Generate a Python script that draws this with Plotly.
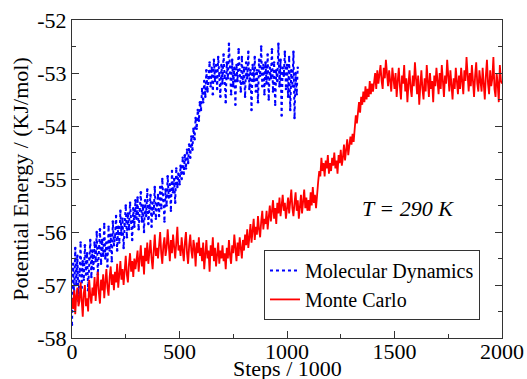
import plotly.graph_objects as go

# Monte Carlo: steps/1000 every 5, 0..2000
mc_steps = list(range(0, 2001, 5))
mc_energy = [
    -57.25,-57.45,-57.10,-57.55,-57.20,-57.05,-57.40,-57.30,-56.95,-57.35,-57.60,-57.15,-57.00,-57.40,-57.25,-57.50,-56.90,-57.20,-57.35,-57.05,
    -57.20,-56.85,-57.30,-57.00,-56.75,-57.15,-57.35,-56.90,-57.10,-56.80,-57.25,-56.95,-56.70,-57.05,-57.20,-56.85,-56.65,-57.00,-56.80,-57.10,
    -56.75,-56.95,-56.60,-57.05,-56.80,-56.55,-56.90,-56.70,-57.00,-56.65,-56.45,-56.80,-56.95,-56.60,-56.40,-56.75,-56.55,-56.85,-56.50,-56.70,
    -56.55,-56.35,-56.75,-56.50,-56.25,-56.65,-56.45,-56.80,-56.30,-56.55,-56.20,-56.60,-56.40,-56.15,-56.50,-56.70,-56.35,-56.05,-56.45,-56.30,
    -56.50,-56.20,-56.00,-56.40,-56.60,-56.25,-56.10,-56.45,-56.30,-55.95,-56.35,-56.55,-56.15,-56.40,-56.05,-56.30,-56.50,-56.20,-55.90,-56.35,
    -56.25,-56.45,-56.10,-56.35,-56.55,-56.20,-56.00,-56.40,-56.60,-56.25,-56.05,-56.35,-56.50,-56.15,-56.30,-56.65,-56.20,-56.40,-56.10,-56.45,
    -56.30,-56.55,-56.20,-56.70,-56.40,-56.15,-56.50,-56.35,-56.75,-56.25,-56.45,-56.10,-56.55,-56.30,-56.65,-56.40,-56.20,-56.60,-56.35,-56.50,
    -56.25,-56.55,-56.40,-56.70,-56.30,-56.50,-56.15,-56.45,-56.60,-56.25,-56.40,-56.05,-56.35,-56.55,-56.20,-56.45,-56.10,-56.30,-56.50,-56.15,
    -56.35,-56.05,-56.25,-55.95,-56.30,-56.10,-55.85,-56.20,-56.00,-55.75,-56.15,-55.90,-56.05,-55.70,-55.95,-56.10,-55.80,-55.60,-55.95,-55.75,
    -55.85,-55.60,-55.95,-55.70,-55.50,-55.80,-55.65,-55.40,-55.75,-55.55,-55.85,-55.45,-55.65,-55.35,-55.70,-55.50,-55.30,-55.60,-55.45,-55.75,
    -55.55,-55.35,-55.65,-55.40,-55.20,-55.55,-55.70,-55.45,-55.25,-55.60,-55.40,-55.75,-55.50,-55.30,-55.65,-55.45,-55.20,-55.55,-55.35,-55.60,
    -55.40,-55.60,-55.25,-55.50,-55.15,-55.45,-55.30,-55.55,-55.20,-55.05,-54.85,-54.95,-54.60,-54.85,-54.70,-54.95,-54.65,-54.80,-54.55,-54.90,
    -54.70,-54.85,-54.60,-54.75,-54.50,-54.80,-54.65,-54.90,-54.55,-54.70,-54.45,-54.75,-54.60,-54.35,-54.65,-54.50,-54.25,-54.55,-54.40,-54.20,
    -54.35,-54.15,-54.30,-54.00,-53.80,-53.95,-53.70,-53.55,-53.75,-53.45,-53.60,-53.35,-53.55,-53.25,-53.50,-53.30,-53.45,-53.15,-53.40,-53.20,
    -53.35,-53.10,-53.00,-53.30,-52.95,-53.20,-53.05,-52.85,-53.15,-53.30,-52.90,-53.10,-52.75,-53.05,-53.25,-52.95,-53.15,-53.35,-52.90,-53.10,
    -53.30,-53.00,-53.45,-53.15,-52.90,-53.25,-53.50,-53.05,-53.20,-52.85,-53.35,-53.10,-53.55,-53.20,-52.95,-53.30,-53.45,-53.05,-53.25,-52.80,
    -53.15,-53.40,-53.05,-53.60,-53.25,-52.95,-53.30,-53.50,-53.10,-53.35,-52.85,-53.20,-53.45,-53.00,-53.30,-53.15,-53.55,-53.05,-53.25,-52.90,
    -53.20,-53.40,-53.00,-53.30,-52.85,-53.25,-53.45,-53.05,-53.20,-52.75,-53.15,-53.35,-52.95,-53.25,-53.50,-53.10,-53.30,-52.90,-53.15,-53.40,
    -53.05,-53.30,-52.90,-53.20,-53.40,-52.95,-53.15,-52.70,-53.10,-53.35,-53.00,-53.25,-52.85,-53.15,-53.45,-53.05,-52.80,-53.20,-53.35,-52.95,
    -53.15,-53.35,-52.90,-53.25,-53.50,-53.05,-52.75,-53.20,-53.40,-52.95,-53.25,-53.10,-52.70,-53.30,-53.45,-53.00,-53.20,-53.55,-52.85,-53.15,
    -53.20,
]

# Molecular Dynamics: steps/1000 every 5, 0..1050
md_steps = list(range(0, 1051, 5))
md_energy = [
    -57.75,-56.60,-57.20,-56.30,-57.00,-56.45,-57.30,-56.75,-56.20,-57.05,-56.55,-56.90,-56.25,-56.80,-56.40,-57.10,-56.50,-56.15,-56.85,-56.35,
    -56.70,-56.20,-56.55,-56.00,-56.80,-56.30,-55.95,-56.60,-56.15,-56.45,-55.85,-56.50,-56.20,-56.65,-55.90,-56.35,-56.05,-56.55,-55.80,-56.25,
    -56.10,-55.70,-56.35,-55.90,-56.20,-55.60,-56.05,-55.75,-56.30,-55.85,-55.50,-56.10,-55.65,-55.95,-55.45,-55.80,-56.15,-55.55,-55.90,-55.40,
    -55.75,-55.35,-55.95,-55.60,-55.25,-55.80,-55.50,-56.00,-55.40,-55.70,-55.20,-55.85,-55.55,-55.30,-55.90,-55.45,-55.65,-55.15,-55.75,-55.50,
    -55.30,-55.70,-55.15,-55.55,-55.00,-55.40,-55.80,-55.20,-55.50,-54.95,-55.35,-55.10,-55.60,-54.85,-55.25,-55.00,-55.45,-54.80,-55.15,-54.90,
    -55.10,-54.75,-55.00,-54.60,-54.90,-54.55,-54.80,-54.45,-54.70,-54.35,-54.60,-54.20,-54.45,-54.05,-54.25,-53.85,-54.05,-53.70,-53.90,-53.55,
    -53.70,-53.30,-53.55,-53.15,-53.45,-52.95,-53.35,-53.10,-52.80,-53.25,-52.90,-53.40,-52.75,-53.15,-52.85,-53.30,-52.70,-53.05,-53.45,-52.85,
    -53.20,-52.65,-53.05,-53.55,-52.80,-53.10,-52.45,-53.00,-53.40,-52.75,-53.25,-52.90,-53.60,-52.85,-53.15,-52.55,-53.05,-53.35,-52.70,-53.20,
    -52.90,-53.45,-52.80,-53.10,-52.60,-53.30,-52.95,-53.70,-52.85,-53.15,-52.70,-53.35,-52.95,-53.55,-52.75,-53.05,-52.50,-53.25,-52.85,-53.40,
    -52.80,-53.20,-52.65,-53.50,-52.90,-53.10,-52.55,-53.35,-52.80,-53.60,-52.95,-53.15,-52.45,-53.25,-52.75,-53.80,-52.90,-53.05,-52.60,-53.30,
    -52.85,-53.45,-52.70,-53.70,-52.95,-53.25,-52.60,-53.85,-53.00,-53.40,-52.90,
]

x_ticks = [0, 500, 1000, 1500, 2000]
y_ticks = [-58, -57, -56, -55, -54, -53, -52]
y_tick_labels = ["-58", "-57", "-56", "-55", "-54", "-53", "-52"]

FONT = "Liberation Serif"
AX = "#333333"

fig = go.Figure()
fig.add_trace(go.Scatter(
    x=md_steps, y=md_energy, mode="lines", name="Molecular Dynamics",
    line=dict(color="#0000ff", width=2, dash="dot"),
))
fig.add_trace(go.Scatter(
    x=md_steps, y=md_energy, mode="markers", showlegend=False,
    marker=dict(color="#0000ff", size=2.5, line=dict(width=0)),
))
fig.add_trace(go.Scatter(
    x=mc_steps, y=mc_energy, mode="lines", name="Monte Carlo",
    line=dict(color="#ff0000", width=1.8),
))

fig.add_annotation(
    x=1563, y=-55.55, xref="x", yref="y", text="<i>T = 290 K</i>",
    showarrow=False, font=dict(family=FONT, size=22, color="black"),
)
fig.add_annotation(
    x=0.5, y=-0.097, xref="paper", yref="paper", text="Steps / 1000",
    showarrow=False, yanchor="middle", font=dict(family=FONT, size=22, color="black"),
)

axis_common = dict(
    showgrid=False, zeroline=False, showline=True, linecolor=AX, linewidth=1.2,
    ticks="inside", ticklen=7, tickwidth=1, tickcolor=AX, automargin=False,
    tickfont=dict(family=FONT, size=22, color="black"),
)

fig.update_layout(
    width=527, height=379,
    margin=dict(l=72, r=25, t=20, b=41),
    paper_bgcolor="white", plot_bgcolor="white",
    font=dict(family=FONT, color="black"),
    showlegend=True,
    legend=dict(
        x=0.4465, y=0.277, xanchor="left", yanchor="top",
        bgcolor="white", bordercolor=AX, borderwidth=1,
        font=dict(family=FONT, size=20, color="black"),
        tracegroupgap=0, itemwidth=30,
    ),
    xaxis=dict(
        range=[0, 2000], tickvals=x_ticks, mirror=True, ticklabelstandoff=-7,
        minor=dict(ticks="inside", ticklen=4, dtick=250, tickcolor=AX),
        **axis_common,
    ),
    yaxis=dict(
        range=[-58, -52], tickvals=y_ticks, ticktext=y_tick_labels, mirror="ticks",
        minor=dict(ticks="inside", ticklen=4, dtick=0.5, tickcolor=AX),
        title=dict(text="Potential Energy / (KJ/mol)", font=dict(family=FONT, size=22), standoff=2),
        **axis_common,
    ),
)

fig.write_html("out.html")
